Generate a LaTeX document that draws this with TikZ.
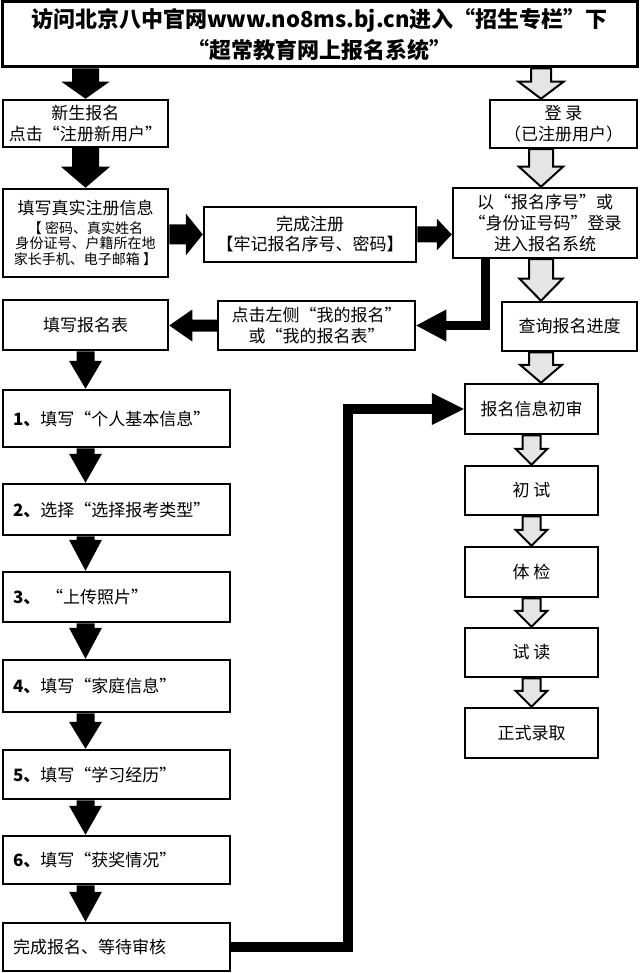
\documentclass[tikz,border=0pt]{standalone}
\usepackage{fontspec}
\setmainfont{Noto Sans CJK SC}
\usetikzlibrary{calc}
% vertical (downwards) block arrow: style, start, end, shaft half width, head half width, head length
\newcommand\vblk[6]{\path[#1] let \p1=(#2), \p2=(#3) in (\x2-#4,\y1) -- (\x2-#4,\y2+#6) -- (\x2-#5,\y2+#6) -- (\x2,\y2) -- (\x2+#5,\y2+#6) -- (\x2+#4,\y2+#6) -- (\x2+#4,\y1) -- cycle;}
% rightwards block arrow
\newcommand\rblk[6]{\path[#1] let \p1=(#2), \p2=(#3) in (\x1,\y2+#4) -- (\x2-#6,\y2+#4) -- (\x2-#6,\y2+#5) -- (\x2,\y2) -- (\x2-#6,\y2-#5) -- (\x2-#6,\y2-#4) -- (\x1,\y2-#4) -- cycle;}
% leftwards block arrow
\newcommand\lblk[6]{\path[#1] let \p1=(#2), \p2=(#3) in (\x1,\y2+#4) -- (\x2+#6,\y2+#4) -- (\x2+#6,\y2+#5) -- (\x2,\y2) -- (\x2+#6,\y2-#5) -- (\x2+#6,\y2-#4) -- (\x1,\y2-#4) -- cycle;}
\tikzset{
  box/.style={draw, line width=2.5pt, fill=white, inner sep=0pt, align=center, font=\fontsize{17}{21}\selectfont},
  lbox/.style={box, text width=207pt, align=left, minimum width=227pt},
  blk/.style={fill=black},
  gry/.style={fill=black!10, draw=black, line width=2pt, line join=miter},
}
\begin{document}
\begin{tikzpicture}[x=1pt,y=-1pt]
\useasboundingbox (0,0) rectangle (640,973);
% nodes
\node[box, line width=3pt, minimum width=635pt, minimum height=65pt, font=\bfseries\fontsize{22}{31}\selectfont] (top) at (319.5,34.5) {访问北京八中官网www.no8ms.bj.cn进入“招生专栏”下\\“超常教育网上报名系统”};
\node[box, minimum width=165pt, minimum height=47pt] (newreg) at (85.5,123.5) {新生报名\\点击“注册新用户”};
\node[box, minimum width=147pt, minimum height=48pt] (login) at (563.5,124) {登 录\\（已注册用户）};
\node[box, minimum width=165pt, minimum height=88pt, font=\fontsize{14}{15.5}\selectfont] (fillinfo) at (85.5,233) {{\fontsize{17}{17}\selectfont 填写真实注册信息}\\[3pt]【 密码、真实姓名\\身份证号、户籍所在地\\家长手机、电子邮箱 】};
\node[box, minimum width=212pt, minimum height=55pt, font=\fontsize{17}{20}\selectfont] (donereg) at (310,234.5) {完成注册\\【牢记报名序号、密码】};
\node[box, minimum width=184pt, minimum height=70pt] (idlogin) at (545,223) {以“报名序号”或\\“身份证号码”登录\\进入报名系统};
\node[box, minimum width=165pt, minimum height=50pt] (form) at (85.5,325) {填写报名表};
\node[box, minimum width=197pt, minimum height=49pt] (click) at (316.5,325.5) {点击左侧“我的报名”\\或“我的报名表”};
\node[box, minimum width=135pt, minimum height=49pt] (query) at (569.5,326.5) {查询报名进度};
\node[lbox, minimum height=57pt] (s1) at (116.5,418.5) {\textbf{1、}填写“个人基本信息”};
\node[lbox, minimum height=51pt] (s2) at (116.5,509.5) {\textbf{2、}选择“选择报考类型”};
\node[lbox, minimum height=50pt] (s3) at (116.5,597) {\textbf{3、} “上传照片”};
\node[lbox, minimum height=52pt] (s4) at (116.5,686) {\textbf{4、}填写“家庭信息”};
\node[lbox, minimum height=49pt] (s5) at (116.5,774.5) {\textbf{5、}填写“学习经历”};
\node[lbox, minimum height=48pt] (s6) at (116.5,860) {\textbf{6、}填写“获奖情况”};
\node[lbox, minimum height=48pt] (finish) at (116.5,947) {完成报名、等待审核};
\node[box, minimum width=133pt, minimum height=50pt] (r1) at (531.5,409) {报名信息初审};
\node[box, minimum width=133pt, minimum height=49pt] (r2) at (531.5,490.5) {初 试};
\node[box, minimum width=133pt, minimum height=50pt] (r3) at (531.5,572) {体 检};
\node[box, minimum width=133pt, minimum height=49pt] (r4) at (531.5,652.5) {试 读};
\node[box, minimum width=133pt, minimum height=50pt] (r5) at (531.5,733) {正式录取};
% helper coordinates
\coordinate (gx) at (541,0);
\coordinate (e1x) at (485,0);
\coordinate (e2x) at (348,0);
% black block arrows
\vblk{blk}{top.south -| newreg.north}{newreg.north}{13.5pt}{24pt}{17pt}
\vblk{blk}{newreg.south}{fillinfo.north}{13.5pt}{24.5pt}{21pt}
\rblk{blk}{fillinfo.east |- donereg.west}{donereg.west}{10pt}{21pt}{17pt}
\rblk{blk}{donereg.east}{idlogin.west |- donereg.east}{8pt}{16pt}{15pt}
\lblk{blk}{click.west}{form.east |- click.west}{6pt}{16pt}{23pt}
\vblk{blk}{form.south}{s1.north -| form.south}{9pt}{16.5pt}{28pt}
\vblk{blk}{s1.south -| form.south}{s2.north -| form.south}{9pt}{16.5pt}{29pt}
\vblk{blk}{s2.south -| form.south}{s3.north -| form.south}{9pt}{16.5pt}{31pt}
\vblk{blk}{s3.south -| form.south}{s4.north -| form.south}{9pt}{16.5pt}{31pt}
\vblk{blk}{s4.south -| form.south}{s5.north -| form.south}{9pt}{16.5pt}{27pt}
\vblk{blk}{s5.south -| form.south}{s6.north -| form.south}{9pt}{16.5pt}{29pt}
\vblk{blk}{s6.south -| form.south}{finish.north -| form.south}{9pt}{16.5pt}{30pt}
% gray block arrows
\vblk{gry}{top.south -| gx}{login.north -| gx}{10pt}{22.5pt}{17pt}
\vblk{gry}{login.south -| gx}{idlogin.north -| gx}{12pt}{22pt}{20pt}
\vblk{gry}{idlogin.south -| gx}{query.north -| gx}{12pt}{21.5pt}{22pt}
\vblk{gry}{query.south -| gx}{r1.north -| gx}{12pt}{21pt}{18pt}
\vblk{gry}{r1.south}{r2.north}{9pt}{16pt}{16pt}
\vblk{gry}{r2.south}{r3.north}{9pt}{16pt}{16pt}
\vblk{gry}{r3.south}{r4.north}{9pt}{16pt}{16pt}
\vblk{gry}{r4.south}{r5.north}{9pt}{16pt}{16pt}
% elbow connectors
\draw[line width=9pt] (idlogin.south -| e1x) |- ([xshift=30pt]click.east);
\path[blk] let \p1=(click.east) in (\x1,\y1) -- (\x1+30pt,\y1+16pt) -- (\x1+30pt,\y1-16pt) -- cycle;
\draw[line width=10pt] (finish.east) -| (r1.west -| e2x) -- ([xshift=-32pt]r1.west);
\path[blk] let \p1=(r1.west) in (\x1,\y1) -- (\x1-32pt,\y1+16pt) -- (\x1-32pt,\y1-16pt) -- cycle;
\end{tikzpicture}
\end{document}
